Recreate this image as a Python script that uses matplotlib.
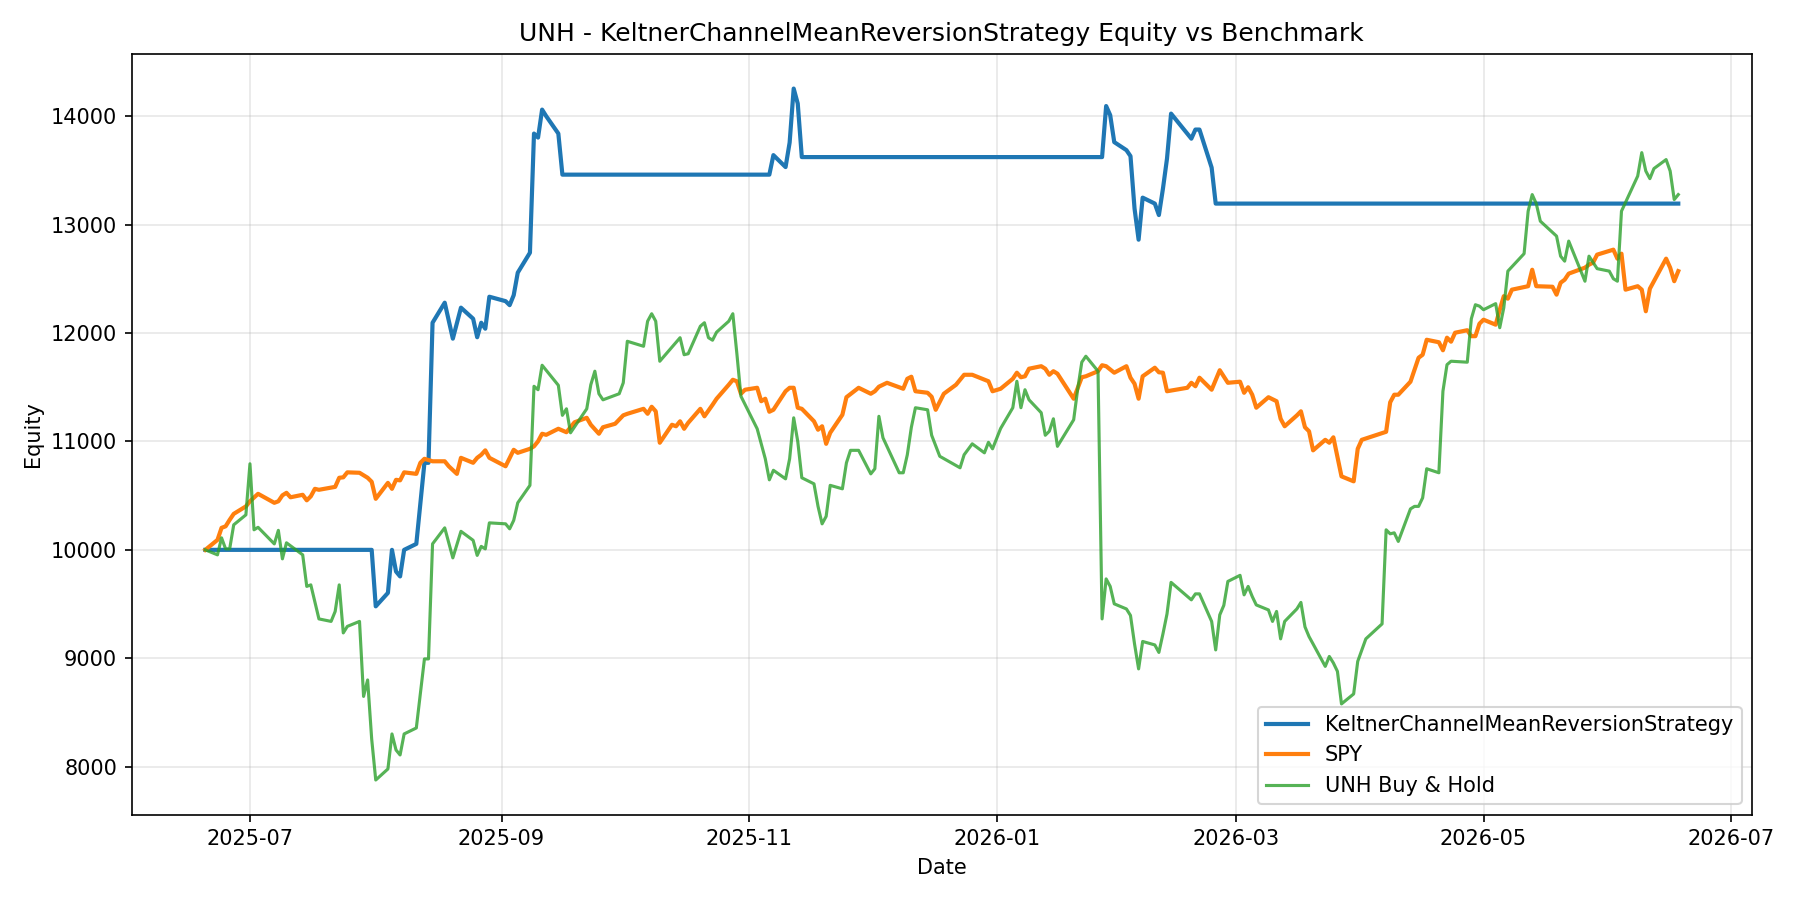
import pandas as pd
import matplotlib
matplotlib.use("Agg")
import matplotlib.pyplot as plt

# 戦略のエクイティ（頂点のみ）
strat_dates = [
    "2025-06-20", "2025-07-31", "2025-08-01", "2025-08-04", "2025-08-05", "2025-08-06",
    "2025-08-07", "2025-08-08", "2025-08-11", "2025-08-13", "2025-08-14", "2025-08-15",
    "2025-08-18", "2025-08-20", "2025-08-22", "2025-08-25", "2025-08-26", "2025-08-27",
    "2025-08-28", "2025-08-29", "2025-09-02", "2025-09-03", "2025-09-04", "2025-09-05",
    "2025-09-08", "2025-09-09", "2025-09-10", "2025-09-11", "2025-09-12", "2025-09-15",
    "2025-09-16", "2025-11-06", "2025-11-07", "2025-11-10", "2025-11-11", "2025-11-12",
    "2025-11-13", "2025-11-14", "2026-01-27", "2026-01-28", "2026-01-29", "2026-01-30",
    "2026-02-02", "2026-02-03", "2026-02-04", "2026-02-05", "2026-02-06", "2026-02-09",
    "2026-02-10", "2026-02-11", "2026-02-12", "2026-02-13", "2026-02-18", "2026-02-19",
    "2026-02-20", "2026-02-23", "2026-02-24", "2026-06-18",
]
strat_equity = [
    10000, 10000, 9479, 9603, 10000, 9800,
    9755, 10000, 10055, 10803, 10803, 12095,
    12280, 11948, 12234, 12132, 11961, 12095,
    12040, 12335, 12294, 12257, 12349, 12557,
    12741, 13840, 13803, 14061, 14001, 13840,
    13461, 13461, 13641, 13531, 13757, 14255,
    14117, 13623, 13623, 14094, 14010, 13761,
    13687, 13632, 13148, 12861, 13249, 13194,
    13088, 13332, 13609, 14024, 13793, 13877,
    13877, 13526, 13194, 13194,
]

# SPY ベンチマーク
spy_dates = [
    "2025-06-20", "2025-06-23", "2025-06-24", "2025-06-25", "2025-06-26", "2025-06-27",
    "2025-06-30", "2025-07-01", "2025-07-03", "2025-07-07", "2025-07-08", "2025-07-09",
    "2025-07-10", "2025-07-11", "2025-07-14", "2025-07-15", "2025-07-16", "2025-07-17",
    "2025-07-18", "2025-07-22", "2025-07-23", "2025-07-24", "2025-07-25", "2025-07-28",
    "2025-07-29", "2025-07-30", "2025-07-31", "2025-08-01", "2025-08-04", "2025-08-05",
    "2025-08-06", "2025-08-07", "2025-08-08", "2025-08-11", "2025-08-12", "2025-08-13",
    "2025-08-15", "2025-08-18", "2025-08-19", "2025-08-21", "2025-08-22", "2025-08-25",
    "2025-08-26", "2025-08-27", "2025-08-28", "2025-08-29", "2025-09-02", "2025-09-04",
    "2025-09-05", "2025-09-08", "2025-09-09", "2025-09-10", "2025-09-11", "2025-09-12",
    "2025-09-15", "2025-09-17", "2025-09-19", "2025-09-22", "2025-09-23", "2025-09-25",
    "2025-09-26", "2025-09-29", "2025-10-01", "2025-10-02", "2025-10-06", "2025-10-07",
    "2025-10-08", "2025-10-09", "2025-10-10", "2025-10-13", "2025-10-14", "2025-10-15",
    "2025-10-16", "2025-10-17", "2025-10-20", "2025-10-21", "2025-10-23", "2025-10-24",
    "2025-10-27", "2025-10-28", "2025-10-29", "2025-10-30", "2025-10-31", "2025-11-03",
    "2025-11-04", "2025-11-05", "2025-11-06", "2025-11-07", "2025-11-10", "2025-11-11",
    "2025-11-12", "2025-11-13", "2025-11-14", "2025-11-17", "2025-11-18", "2025-11-19",
    "2025-11-20", "2025-11-21", "2025-11-24", "2025-11-25", "2025-11-28", "2025-12-01",
    "2025-12-02", "2025-12-03", "2025-12-05", "2025-12-09", "2025-12-10", "2025-12-11",
    "2025-12-12", "2025-12-15", "2025-12-16", "2025-12-17", "2025-12-19", "2025-12-22",
    "2025-12-24", "2025-12-26", "2025-12-30", "2025-12-31", "2026-01-02", "2026-01-05",
    "2026-01-06", "2026-01-07", "2026-01-08", "2026-01-09", "2026-01-12", "2026-01-13",
    "2026-01-14", "2026-01-15", "2026-01-16", "2026-01-20", "2026-01-22", "2026-01-23",
    "2026-01-26", "2026-01-27", "2026-01-28", "2026-01-30", "2026-02-02", "2026-02-03",
    "2026-02-04", "2026-02-05", "2026-02-06", "2026-02-09", "2026-02-10", "2026-02-11",
    "2026-02-12", "2026-02-17", "2026-02-18", "2026-02-19", "2026-02-20", "2026-02-23",
    "2026-02-25", "2026-02-27", "2026-03-02", "2026-03-03", "2026-03-04", "2026-03-05",
    "2026-03-06", "2026-03-09", "2026-03-11", "2026-03-12", "2026-03-13", "2026-03-16",
    "2026-03-17", "2026-03-18", "2026-03-19", "2026-03-20", "2026-03-23", "2026-03-24",
    "2026-03-25", "2026-03-27", "2026-03-30", "2026-03-31", "2026-04-01", "2026-04-07",
    "2026-04-08", "2026-04-09", "2026-04-10", "2026-04-13", "2026-04-14", "2026-04-15",
    "2026-04-16", "2026-04-17", "2026-04-20", "2026-04-21", "2026-04-22", "2026-04-23",
    "2026-04-24", "2026-04-27", "2026-04-28", "2026-04-29", "2026-04-30", "2026-05-01",
    "2026-05-04", "2026-05-05", "2026-05-06", "2026-05-07", "2026-05-08", "2026-05-12",
    "2026-05-13", "2026-05-14", "2026-05-18", "2026-05-19", "2026-05-20", "2026-05-21",
    "2026-05-22", "2026-05-26", "2026-05-27", "2026-05-28", "2026-05-29", "2026-06-02",
    "2026-06-03", "2026-06-04", "2026-06-05", "2026-06-08", "2026-06-09", "2026-06-10",
    "2026-06-11", "2026-06-15", "2026-06-16", "2026-06-17", "2026-06-18",
]
spy_equity = [
    10000, 10092, 10203, 10217, 10277, 10332,
    10401, 10448, 10517, 10434, 10448, 10503,
    10526, 10485, 10508, 10457, 10494, 10563,
    10554, 10581, 10665, 10669, 10715, 10711,
    10688, 10665, 10628, 10471, 10618, 10563,
    10646, 10641, 10715, 10701, 10803, 10840,
    10817, 10817, 10771, 10701, 10849, 10803,
    10849, 10877, 10918, 10849, 10771, 10923,
    10895, 10932, 10955, 11001, 11071, 11061,
    11117, 11085, 11177, 11218, 11154, 11071,
    11131, 11163, 11241, 11255, 11301, 11255,
    11320, 11278, 10988, 11154, 11140, 11186,
    11117, 11172, 11301, 11232, 11338, 11394,
    11523, 11569, 11555, 11440, 11477, 11495,
    11371, 11394, 11274, 11292, 11463, 11495,
    11495, 11311, 11301, 11186, 11108, 11140,
    10978, 11080, 11246, 11408, 11495, 11440,
    11463, 11505, 11541, 11486, 11578, 11597,
    11463, 11449, 11412, 11292, 11440, 11523,
    11615, 11615, 11555, 11463, 11486, 11578,
    11634, 11592, 11601, 11671, 11694, 11671,
    11615, 11648, 11625, 11394, 11592, 11601,
    11648, 11703, 11694, 11634, 11694, 11588,
    11532, 11394, 11601, 11680, 11638, 11634,
    11463, 11495, 11541, 11509, 11588, 11477,
    11657, 11541, 11551, 11449, 11500, 11431,
    11311, 11408, 11371, 11209, 11140, 11240,
    11278, 11131, 11094, 10918, 11015, 10988,
    11038, 10678, 10632, 10932, 11015, 11089,
    11361, 11431, 11431, 11551, 11661, 11772,
    11800, 11938, 11915, 11841, 11957, 11920,
    12003, 12026, 11971, 11971, 12086, 12123,
    12077, 12215, 12340, 12317, 12400, 12432,
    12584, 12432, 12427, 12354, 12464, 12492,
    12548, 12603, 12631, 12649, 12723, 12769,
    12686, 12732, 12400, 12432, 12400, 12201,
    12409, 12686, 12603, 12478, 12571,
]

# UNH バイ・アンド・ホールド
unh_dates = [
    "2025-06-20", "2025-06-23", "2025-06-24", "2025-06-25", "2025-06-26", "2025-06-27",
    "2025-06-30", "2025-07-01", "2025-07-02", "2025-07-03", "2025-07-07", "2025-07-08",
    "2025-07-09", "2025-07-10", "2025-07-14", "2025-07-15", "2025-07-16", "2025-07-18",
    "2025-07-21", "2025-07-22", "2025-07-23", "2025-07-24", "2025-07-25", "2025-07-28",
    "2025-07-29", "2025-07-30", "2025-07-31", "2025-08-01", "2025-08-04", "2025-08-05",
    "2025-08-06", "2025-08-07", "2025-08-08", "2025-08-11", "2025-08-13", "2025-08-14",
    "2025-08-15", "2025-08-18", "2025-08-20", "2025-08-22", "2025-08-25", "2025-08-26",
    "2025-08-27", "2025-08-28", "2025-08-29", "2025-09-02", "2025-09-03", "2025-09-04",
    "2025-09-05", "2025-09-08", "2025-09-09", "2025-09-10", "2025-09-11", "2025-09-15",
    "2025-09-16", "2025-09-17", "2025-09-18", "2025-09-22", "2025-09-23", "2025-09-24",
    "2025-09-25", "2025-09-26", "2025-09-30", "2025-10-01", "2025-10-02", "2025-10-06",
    "2025-10-07", "2025-10-08", "2025-10-09", "2025-10-10", "2025-10-15", "2025-10-16",
    "2025-10-17", "2025-10-20", "2025-10-21", "2025-10-22", "2025-10-23", "2025-10-24",
    "2025-10-27", "2025-10-28", "2025-10-29", "2025-10-30", "2025-11-03", "2025-11-04",
    "2025-11-05", "2025-11-06", "2025-11-07", "2025-11-10", "2025-11-11", "2025-11-12",
    "2025-11-13", "2025-11-14", "2025-11-17", "2025-11-18", "2025-11-19", "2025-11-20",
    "2025-11-21", "2025-11-24", "2025-11-25", "2025-11-26", "2025-11-28", "2025-12-01",
    "2025-12-02", "2025-12-03", "2025-12-04", "2025-12-08", "2025-12-09", "2025-12-10",
    "2025-12-11", "2025-12-12", "2025-12-15", "2025-12-16", "2025-12-18", "2025-12-23",
    "2025-12-24", "2025-12-26", "2025-12-29", "2025-12-30", "2025-12-31", "2026-01-02",
    "2026-01-05", "2026-01-06", "2026-01-07", "2026-01-08", "2026-01-09", "2026-01-12",
    "2026-01-13", "2026-01-14", "2026-01-15", "2026-01-16", "2026-01-20", "2026-01-21",
    "2026-01-22", "2026-01-23", "2026-01-26", "2026-01-27", "2026-01-28", "2026-01-29",
    "2026-01-30", "2026-02-02", "2026-02-03", "2026-02-04", "2026-02-05", "2026-02-06",
    "2026-02-09", "2026-02-10", "2026-02-11", "2026-02-12", "2026-02-13", "2026-02-18",
    "2026-02-19", "2026-02-20", "2026-02-23", "2026-02-24", "2026-02-25", "2026-02-26",
    "2026-02-27", "2026-03-02", "2026-03-03", "2026-03-04", "2026-03-05", "2026-03-06",
    "2026-03-09", "2026-03-10", "2026-03-11", "2026-03-12", "2026-03-13", "2026-03-16",
    "2026-03-17", "2026-03-18", "2026-03-19", "2026-03-20", "2026-03-23", "2026-03-24",
    "2026-03-25", "2026-03-26", "2026-03-27", "2026-03-30", "2026-03-31", "2026-04-02",
    "2026-04-06", "2026-04-07", "2026-04-08", "2026-04-09", "2026-04-10", "2026-04-13",
    "2026-04-14", "2026-04-15", "2026-04-16", "2026-04-17", "2026-04-20", "2026-04-21",
    "2026-04-22", "2026-04-23", "2026-04-27", "2026-04-28", "2026-04-29", "2026-04-30",
    "2026-05-01", "2026-05-04", "2026-05-05", "2026-05-06", "2026-05-07", "2026-05-11",
    "2026-05-12", "2026-05-13", "2026-05-14", "2026-05-15", "2026-05-19", "2026-05-20",
    "2026-05-21", "2026-05-22", "2026-05-26", "2026-05-27", "2026-05-29", "2026-06-01",
    "2026-06-02", "2026-06-03", "2026-06-04", "2026-06-08", "2026-06-09", "2026-06-10",
    "2026-06-11", "2026-06-12", "2026-06-15", "2026-06-16", "2026-06-17", "2026-06-18",
]
unh_equity = [
    10000, 9954, 10111, 10009, 10009, 10231,
    10323, 10794, 10185, 10208, 10055, 10180,
    9917, 10065, 9954, 9663, 9677, 9363,
    9340, 9432, 9677, 9234, 9294, 9340,
    8648, 8800, 8255, 7877, 7979, 8302,
    8154, 8108, 8302, 8357, 8994, 8994,
    10055, 10203, 9926, 10171, 10088, 9949,
    10032, 10009, 10249, 10240, 10194, 10272,
    10434, 10595, 11509, 11477, 11703, 11518,
    11241, 11301, 11080, 11301, 11523, 11648,
    11440, 11384, 11440, 11541, 11924, 11878,
    12109, 12178, 12109, 11740, 11957, 11800,
    11809, 12063, 12095, 11957, 11934, 12008,
    12109, 12178, 11809, 11417, 11117, 10978,
    10840, 10646, 10734, 10655, 10840, 11218,
    11001, 10665, 10609, 10401, 10240, 10309,
    10595, 10563, 10803, 10918, 10918, 10701,
    10748, 11232, 11034, 10711, 10711, 10877,
    11131, 11311, 11292, 11057, 10863, 10757,
    10877, 10978, 10895, 10992, 10932, 11120,
    11311, 11555, 11311, 11477, 11384, 11265,
    11057, 11094, 11209, 10955, 11200, 11486,
    11731, 11786, 11648, 9363, 9732, 9663,
    9502, 9455, 9395, 9132, 8902, 9155,
    9123, 9054, 9225, 9409, 9700, 9539,
    9594, 9594, 9340, 9077, 9400, 9488,
    9709, 9765, 9585, 9663, 9570, 9492,
    9446, 9340, 9432, 9179, 9340, 9455,
    9515, 9290, 9200, 9132, 8925, 9017,
    8957, 8879, 8579, 8671, 8971, 9179,
    9317, 10185, 10148, 10157, 10078, 10378,
    10401, 10401, 10480, 10748, 10711, 11463,
    11708, 11740, 11731, 12132, 12261, 12248,
    12215, 12271, 12049, 12234, 12571, 12732,
    13124, 13277, 13194, 13032, 12894, 12709,
    12663, 12848, 12478, 12709, 12594, 12571,
    12501, 12478, 13124, 13448, 13664, 13494,
    13424, 13517, 13600, 13494, 13231, 13277,
]

fig, ax = plt.subplots(figsize=(12, 6), dpi=150)
ax.plot(pd.to_datetime(strat_dates), strat_equity, color="tab:blue", linewidth=2,
        label="KeltnerChannelMeanReversionStrategy")
ax.plot(pd.to_datetime(spy_dates), spy_equity, color="tab:orange", linewidth=2, label="SPY")
ax.plot(pd.to_datetime(unh_dates), unh_equity, color="tab:green", linewidth=1.5, alpha=0.8,
        label="UNH Buy & Hold")

ax.set_title("UNH - KeltnerChannelMeanReversionStrategy Equity vs Benchmark")
ax.set_xlabel("Date")
ax.set_ylabel("Equity")
ax.grid(True, alpha=0.3)
ax.legend(loc="lower right")
fig.tight_layout()
fig.savefig("out.png")
